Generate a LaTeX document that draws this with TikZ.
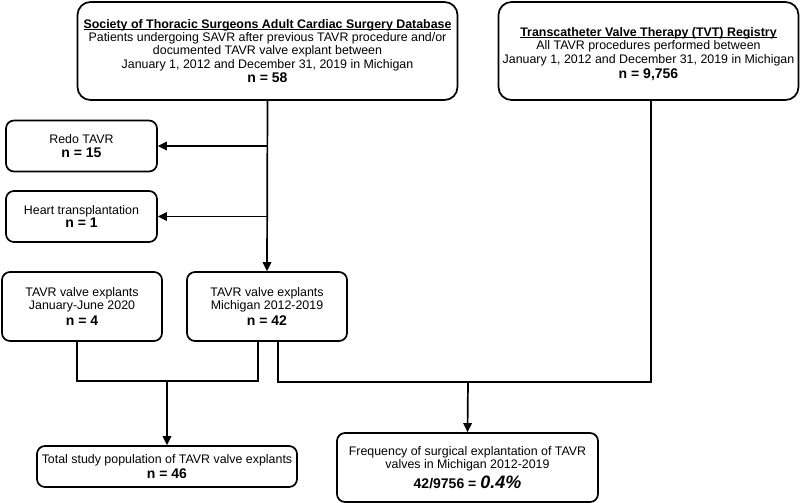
\documentclass[tikz,border=0pt]{standalone}
\usepackage{fontspec}
\setmainfont{Liberation Sans}
\usetikzlibrary{arrows.meta}
\tikzset{
  box/.style={draw=black, line width=1.7pt, fill=white, align=center, inner sep=0pt,
    font=\fontsize{12.4}{13.4}\selectfont},
  bigbox/.style={box, rounded corners=13pt},
  smallbox/.style={box, rounded corners=8pt},
  conn/.style={line width=1.7pt},
  arr/.style={conn, -{Triangle[length=9pt,width=8.5pt]}},
}
\newcommand{\nbig}[1]{{\fontsize{14}{15}\selectfont\textbf{#1}}}
\newcommand{\myul}[1]{\setbox0\hbox{#1}\rlap{\rule[-2pt]{\wd0}{0.9pt}}\box0}
\begin{document}
\begin{tikzpicture}[x=1pt,y=-1pt]
\useasboundingbox (0,0) rectangle (800,503);
% boxes
\node[bigbox, minimum width=380pt, minimum height=98pt] (sts) at (267.5,51)
  {\myul{\textbf{Society of Thoracic Surgeons Adult Cardiac Surgery Database}}\\
   Patients undergoing SAVR after previous TAVR procedure and/or\\
   documented TAVR valve explant between\\
   January 1, 2012 and December 31, 2019 in Michigan\\[1pt]
   \nbig{n = 58}};
\node[bigbox, minimum width=300pt, minimum height=98pt] (tvt) at (648.5,51)
  {\rule{0pt}{15pt}\myul{\textbf{Transcatheter Valve Therapy (TVT) Registry}}\\
   All TAVR procedures performed between\\
   January 1, 2012 and December 31, 2019 in Michigan\\[2pt]
   \nbig{n = 9,756}};
\node[smallbox, minimum width=151pt, minimum height=51pt] (redo) at (81.5,146)
  {Redo TAVR\\ \nbig{n = 15}};
\node[smallbox, minimum width=151pt, minimum height=51pt] (heart) at (81.5,216.5)
  {Heart transplantation\\ \nbig{n = 1}};
\node[smallbox, minimum width=160pt, minimum height=69pt] (jan) at (82,306.5)
  {TAVR valve explants\\ January-June 2020\\[2pt] \nbig{n = 4}};
\node[smallbox, minimum width=160pt, minimum height=69pt] (mich) at (267,306.5)
  {TAVR valve explants\\ Michigan 2012-2019\\[2pt] \nbig{n = 42}};
\node[smallbox, minimum width=260pt, minimum height=41pt] (total) at (167,466.5)
  {Total study population of TAVR valve explants\\[1pt]
   \nbig{n = 46}};
\node[smallbox, minimum width=261pt, minimum height=69pt] (freq) at (467.5,467.5)
  {Frequency of surgical explantation of TAVR\\ valves in Michigan 2012-2019\\[3pt]
   {\fontsize{14}{16}\selectfont\textbf{42/9756 = }{\fontsize{18}{18}\selectfont\textbf{\textit{0.4\%}}}}};
% connectors
\coordinate (b1) at (267,146);
\coordinate (b2) at (267,216.5);
\draw[arr] (sts.south) -- (mich.north);
\draw[arr] (b1) -- (redo.east);
\draw[arr] (b2) -- (heart.east);
\coordinate (jl) at (77,381);
\coordinate (ml) at (258,381);
\coordinate (tc) at (167,381);
\draw[conn] (jan.south -| jl) -- (jl) -- (ml) -- (mich.south -| ml);
\draw[arr] (tc) -- (total.north);
\coordinate (mr) at (278,382);
\coordinate (tr) at (651,382);
\coordinate (fc) at (468,382);
\draw[conn] (mich.south -| mr) -- (mr) -- (tr) -- (tvt.south -| tr);
\draw[arr] (fc) -- (freq.north);
\end{tikzpicture}
\end{document}
